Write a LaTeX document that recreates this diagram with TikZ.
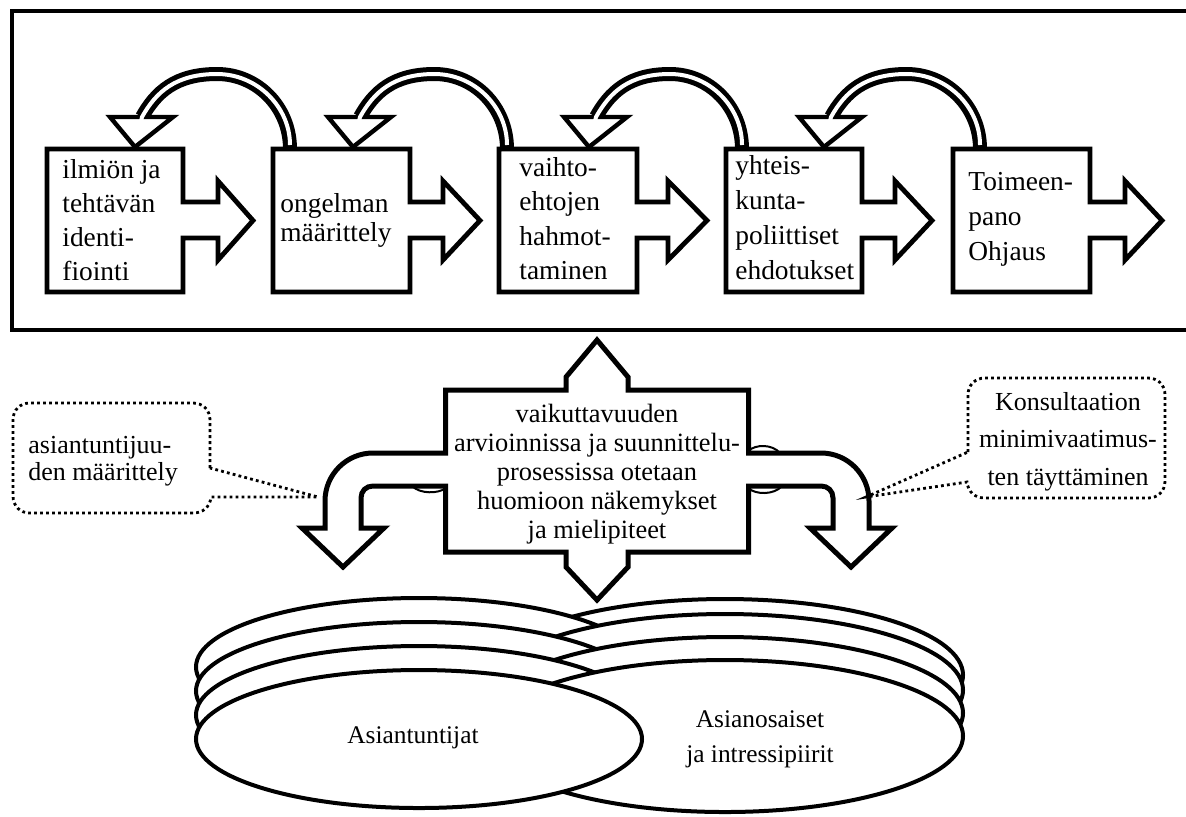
\documentclass[tikz,border=0pt]{standalone}
\usepackage{fontspec}
\setmainfont{Liberation Serif}
\newcommand\lefttext[2]{\vtop{\baselineskip=#1\lineskiplimit=-30pt\halign{##\hfil\cr#2\crcr}}}
\newcommand\centertext[2]{\vtop{\baselineskip=#1\lineskiplimit=-30pt\halign{\hfil##\hfil\cr#2\crcr}}}
\tikzset{
  frameline/.style={line width=2pt},
  boxline/.style={line width=2.4pt, fill=white, line join=miter},
  headline/.style={line width=2.2pt, fill=white, line join=miter},
  bandblack/.style={line width=7pt},
  bandwhite/.style={line width=2pt, white},
  ell/.style={line width=2pt, fill=white},
  midshape/.style={line width=2.5pt, fill=white, line join=miter},
  calloutline/.style={line width=1.4pt, dash pattern=on 1.4pt off 1.6pt},
  toptext/.style={inner sep=0pt, font=\fontsize{13.7pt}{17pt}\selectfont},
  midtext/.style={inner sep=0pt, font=\fontsize{13.2pt}{15pt}\selectfont},
  calltext/.style={inner sep=0pt, font=\fontsize{13pt}{15pt}\selectfont},
  elltext/.style={inner sep=0pt, font=\fontsize{12.7pt}{15pt}\selectfont}
}
\newcommand\topbox[4]{%
  \draw[boxline] (#1,149) -- (#2,149) -- (#2,202) -- (#3,202) -- (#3,181) -- (#4,220.5) -- (#3,260) -- (#3,238) -- (#2,238) -- (#2,292) -- (#1,292) -- cycle;}
% #1 = x of band foot on the box, #2 = x of band end at the head
\newcommand\looparrow[2]{%
  \pgfmathsetmacro\pkx{(#1+#2)/2+1}%
  \pgfmathsetmacro\ca{#1-0.448*(#1-\pkx)}%
  \pgfmathsetmacro\cb{\pkx-0.552*(\pkx-#2)}%
  \pgfmathsetmacro\cc{#2+14}%
  \draw[bandblack] (#1,149) .. controls (#1,107) and (\ca,74) .. (\pkx,74) .. controls (\cb,74) and (\cc,92) .. (#2,117);
  \draw[headline] ({#2-32},117) -- ({#2+31},117) -- ({#2-7},147) -- cycle;
  \draw[bandwhite] (#1,145) .. controls (#1,107) and (\ca,74) .. (\pkx,74) .. controls (\cb,74) and (\cc,92) .. (#2,117) -- ({#2-1.5},123);}
\begin{document}
\begin{tikzpicture}[x=0.5pt,y=-0.5pt]
\useasboundingbox (0,0) rectangle (1186,816);
\clip (0,0) rectangle (1186,816);
\fill[white] (0,0) rectangle (1186,816);
% frame
\draw[frameline] (12,11) rectangle (1200,330);
% top boxes
\topbox{47}{183}{218}{253}
\topbox{273}{410}{443}{480}
\topbox{499}{637}{668}{707}
\topbox{726}{862}{895}{932}
\topbox{953}{1090}{1125}{1162}
% loop arrows
\looparrow{290}{142}
\looparrow{507}{360}
\looparrow{742}{596}
\looparrow{980}{831}
% ellipses (interleaved)
\draw[ell] (725,675) ellipse [x radius=119pt, y radius=38pt];
\draw[ell] (419,667) ellipse [x radius=111.5pt, y radius=34.5pt];
\draw[ell] (725,690) ellipse [x radius=119pt, y radius=38pt];
\draw[ell] (419,691) ellipse [x radius=111.5pt, y radius=34.5pt];
\draw[ell] (725,713) ellipse [x radius=119pt, y radius=38pt];
\draw[ell] (419,715) ellipse [x radius=111.5pt, y radius=34.5pt];
\draw[ell] (725,736) ellipse [x radius=119pt, y radius=38pt];
\draw[ell] (419,739) ellipse [x radius=111.5pt, y radius=34.5pt];
% middle shape
\draw[midshape] (445.5,390) -- (566,390) -- (566,377) -- (597,340) -- (628,377) -- (628,390) -- (748.5,390)
  -- (748.5,453) -- (821,453) .. controls (847.5,453) and (869,474.5) .. (869,501) -- (869,528)
  -- (892,528) -- (851,567) -- (810,528) -- (833,528) -- (833,498) .. controls (833,491) and (828,486) .. (821,486)
  -- (748.5,486) -- (748.5,552) -- (628,552) -- (628,567) -- (597,600) -- (566,567) -- (566,552) -- (445.5,552)
  -- (445.5,486) -- (373,486) .. controls (366,486) and (361,491) .. (361,498) -- (361,528)
  -- (384,528) -- (343,567) -- (302,528) -- (325,528) -- (325,501) .. controls (325,474.5) and (346.5,453) .. (373,453)
  -- (445.5,453) -- cycle;
% junction bumps
\draw[line width=1pt] (412,486) .. controls (420,494) and (438,494) .. (446,488);
\draw[line width=1pt] (748,451) .. controls (756,444) and (772,444) .. (780,453);
\draw[line width=1pt] (748,488) .. controls (756,495) and (774,495) .. (782,486);
% callouts
\draw[calloutline] (210,468) -- (210,420) .. controls (210,410) and (203,403) .. (193,403) -- (30,403)
  .. controls (20,403) and (13,410) .. (13,420) -- (13,496) .. controls (13,506) and (20,513) .. (30,513)
  -- (193,513) .. controls (203,513) and (210,507) .. (211,497) -- (318,497) -- cycle;
\draw[calloutline] (968,452) -- (968,395) .. controls (968,385) and (975,378) .. (985,378) -- (1148,378)
  .. controls (1158,378) and (1165,385) .. (1165,395) -- (1165,481) .. controls (1165,491) and (1158,498) .. (1148,498)
  -- (985,498) .. controls (975,498) and (968,492) .. (967,482) -- (866,497) -- cycle;
% texts
\node[toptext, anchor=base west] (t1) at (62,178) {\lefttext{17pt}{ilmiön ja\cr tehtävän\cr identi-\cr fiointi}};
\node[toptext, anchor=base west] (t2) at (280,212) {\lefttext{14.75pt}{ongelman\cr määrittely}};
\node[toptext, anchor=base west] (t3) at (519,176) {\lefttext{17.3pt}{vaihto-\cr ehtojen\cr hahmot-\cr taminen}};
\node[toptext, anchor=base west] (t4) at (735,174) {\lefttext{17.5pt}{yhteis-\cr kunta-\cr poliittiset\cr ehdotukset}};
\node[toptext, anchor=base west] (t5) at (968,190) {\lefttext{17.5pt}{Toimeen-\cr pano\cr Ohjaus}};
\node[midtext, anchor=base] (mt) at (597,422) {\centertext{14.5pt}{vaikuttavuuden\cr arvioinnissa ja suunnittelu-\cr prosessissa otetaan\cr huomioon näkemykset\cr ja mielipiteet}};
\node[calltext, anchor=base west] (c1) at (28,453) {\lefttext{13.5pt}{asiantuntijuu-\cr den määrittely}};
\node[calltext, anchor=base] (c2) at (1068,410) {\centertext{18.75pt}{Konsultaation\cr minimivaatimus-\cr ten täyttäminen}};
\node[elltext, anchor=base] (e1) at (413,743) {Asiantuntijat};
\node[elltext, anchor=base] (e2) at (760,727) {\centertext{17.5pt}{Asianosaiset\cr ja intressipiirit}};
\end{tikzpicture}
\end{document}
